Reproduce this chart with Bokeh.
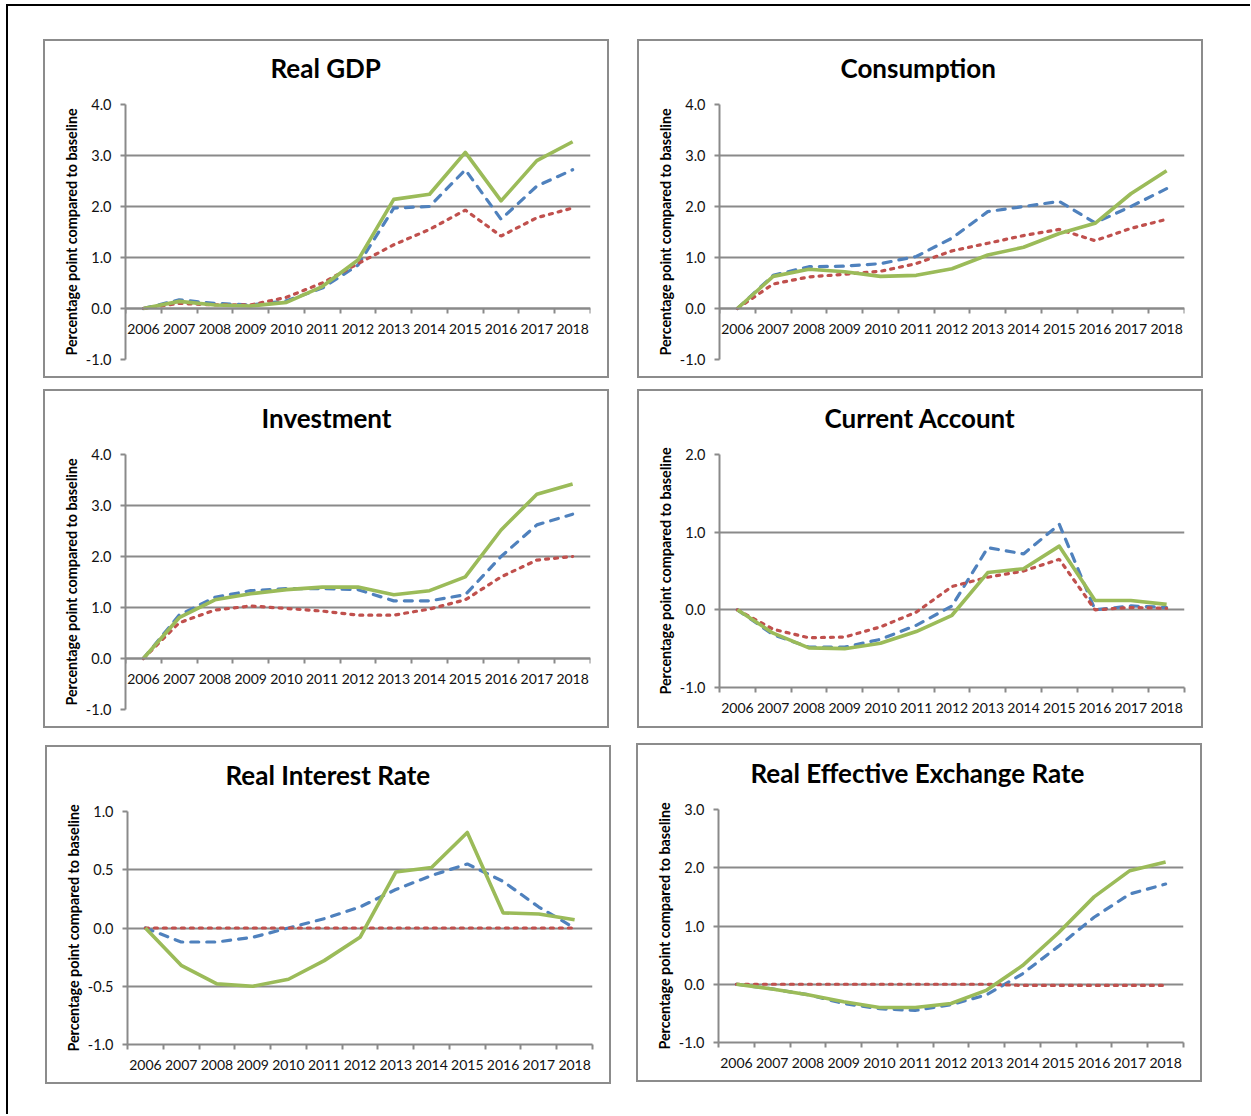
from bokeh.plotting import figure
from bokeh.layouts import row, column
from bokeh.models import FixedTicker, NumeralTickFormatter, LinearAxis, Range1d, Grid, Title
from bokeh.embed import file_html
from bokeh.resources import INLINE

years = ["2006", "2007", "2008", "2009", "2010", "2011", "2012",
         "2013", "2014", "2015", "2016", "2017", "2018"]

gdp_blue = [0.0, 0.17, 0.10, 0.07, 0.15, 0.40, 0.85, 1.97, 2.00, 2.72, 1.75, 2.40, 2.72]
gdp_red = [0.0, 0.10, 0.07, 0.07, 0.22, 0.50, 0.88, 1.25, 1.55, 1.93, 1.42, 1.78, 1.97]
gdp_green = [0.0, 0.14, 0.07, 0.05, 0.12, 0.43, 0.95, 2.14, 2.24, 3.06, 2.11, 2.90, 3.27]

cons_blue = [0.0, 0.65, 0.82, 0.83, 0.88, 1.02, 1.38, 1.90, 2.00, 2.10, 1.68, 2.00, 2.35]
cons_red = [0.0, 0.48, 0.62, 0.67, 0.73, 0.88, 1.13, 1.28, 1.43, 1.55, 1.33, 1.57, 1.75]
cons_green = [0.0, 0.63, 0.77, 0.72, 0.63, 0.65, 0.78, 1.05, 1.20, 1.47, 1.67, 2.25, 2.70]

inv_blue = [0.0, 0.85, 1.20, 1.33, 1.37, 1.37, 1.35, 1.13, 1.13, 1.25, 2.00, 2.62, 2.83]
inv_red = [0.0, 0.70, 0.95, 1.03, 0.98, 0.93, 0.85, 0.85, 0.97, 1.15, 1.60, 1.93, 2.00]
inv_green = [0.0, 0.80, 1.15, 1.27, 1.35, 1.40, 1.40, 1.25, 1.33, 1.60, 2.52, 3.22, 3.42]

ca_blue = [0.0, -0.32, -0.48, -0.48, -0.38, -0.20, 0.05, 0.80, 0.72, 1.10, 0.00, 0.05, 0.03]
ca_red = [0.0, -0.25, -0.36, -0.35, -0.22, -0.03, 0.30, 0.42, 0.50, 0.65, 0.00, 0.03, 0.02]
ca_green = [0.0, -0.30, -0.49, -0.50, -0.43, -0.28, -0.07, 0.48, 0.53, 0.82, 0.12, 0.12, 0.07]

rir_blue = [0.0, -0.12, -0.12, -0.08, 0.00, 0.08, 0.18, 0.33, 0.45, 0.55, 0.40, 0.18, 0.00]
rir_red = [0.0, 0.0, 0.0, 0.0, 0.0, 0.0, 0.0, 0.0, 0.0, 0.0, 0.0, 0.0, 0.0]
rir_green = [0.0, -0.32, -0.48, -0.50, -0.44, -0.28, -0.08, 0.48, 0.52, 0.82, 0.13, 0.12, 0.07]

reer_blue = [0.0, -0.08, -0.18, -0.33, -0.42, -0.45, -0.35, -0.18, 0.18, 0.65, 1.15, 1.55, 1.72]
reer_red = [0.0, 0.0, 0.0, 0.0, 0.0, 0.0, 0.0, 0.0, -0.02, -0.02, -0.02, -0.02, -0.02]
reer_green = [0.0, -0.08, -0.18, -0.30, -0.40, -0.40, -0.33, -0.10, 0.32, 0.88, 1.50, 1.95, 2.10]

ticks_4 = [-1.0, 0.0, 1.0, 2.0, 3.0, 4.0]
ticks_2 = [-1.0, 0.0, 1.0, 2.0]
ticks_1 = [-1.0, -0.5, 0.0, 0.5, 1.0]
ticks_3 = [-1.0, 0.0, 1.0, 2.0, 3.0]

y_label = "Percentage point compared to baseline"

GRAY = "#8a8a8a"
BLUE = "#4F81BD"
RED = "#C0504D"
GREEN = "#9BBB59"
FONT = "Lato"


def make_panel(title, title_offset, blue, red, green, yticks, axis_at_zero, top, fh, margin):
    n = len(years)
    xs = list(range(n))
    bottom = 335 - top - fh
    # the 2px CSS border is measured into the canvas, so the frame grows by 4px;
    # declare it 4px smaller and give the extra to the right/bottom borders
    p = figure(frame_width=461, frame_height=fh - 4,
               min_border_left=80, min_border_right=21,
               min_border_top=top, min_border_bottom=bottom + 4,
               x_range=Range1d(-0.5, n - 0.5),
               y_range=Range1d(min(yticks), max(yticks)),
               x_axis_location=None, y_axis_location=None,
               output_backend="svg", toolbar_location=None,
               outline_line_color=None, background_fill_color="white",
               border_fill_color="white", margin=margin,
               styles={"border": "2px solid #8c8c8c"})
    p.xgrid.visible = False
    p.ygrid.visible = False

    # spacer between the title and the plot frame
    p.add_layout(Title(text=" ", text_font_size="10px", standoff=2), "above")

    p.title.text = title
    p.title.align = "left"
    p.title.offset = title_offset
    p.title.standoff = 12
    p.title.text_font = FONT
    p.title.text_font_style = "bold"
    p.title.text_font_size = "26px"
    p.title.text_color = "black"

    yt = FixedTicker(ticks=yticks, minor_ticks=[])
    grid = Grid(dimension=1, ticker=yt, grid_line_color=GRAY, grid_line_width=2)
    p.add_layout(grid)

    ya = LinearAxis(ticker=yt, formatter=NumeralTickFormatter(format="0.0"),
                    axis_label=y_label,
                    axis_label_text_font=FONT, axis_label_text_font_style="bold",
                    axis_label_text_font_size="14.3px", axis_label_text_color="black",
                    axis_label_standoff=3,
                    major_label_text_font=FONT, major_label_text_font_size="14.5px",
                    major_label_text_color="#111111", major_label_standoff=9,
                    major_tick_out=5, major_tick_in=0, minor_tick_out=0, minor_tick_in=0,
                    major_tick_line_color=GRAY, major_tick_line_width=2,
                    axis_line_color=GRAY, axis_line_width=2)
    p.add_layout(ya, "left")

    bounds = [i - 0.5 for i in range(n + 1)]
    xt = FixedTicker(ticks=xs, minor_ticks=bounds)
    xa = LinearAxis(ticker=xt,
                    major_label_overrides={i: y for i, y in enumerate(years)},
                    major_label_text_font=FONT, major_label_text_font_size="14px",
                    major_label_text_color="#111111", major_label_standoff=10,
                    major_tick_out=0, major_tick_in=0,
                    minor_tick_out=5, minor_tick_in=0,
                    minor_tick_line_color=GRAY, minor_tick_line_width=2,
                    axis_line_color=GRAY, axis_line_width=2)
    if axis_at_zero:
        xa.fixed_location = 0
    p.add_layout(xa, "below")

    p.line(xs, blue, line_color=BLUE, line_width=3.2, line_dash="8 8", line_cap="round")
    p.line(xs, red, line_color=RED, line_width=3.2, line_dash="3 6", line_cap="round")
    p.line(xs, green, line_color=GREEN, line_width=3.6, line_join="round")
    return p


p1 = make_panel("Real GDP", 145, gdp_blue, gdp_red, gdp_green, ticks_4, True, 63, 255, (33, 0, 0, 35))
p2 = make_panel("Consumption", 121, cons_blue, cons_red, cons_green, ticks_4, True, 63, 255, (33, 47, 0, 28))
p3 = make_panel("Investment", 136, inv_blue, inv_red, inv_green, ticks_4, True, 63, 255, (11, 0, 0, 35))
p4 = make_panel("Current Account", 105, ca_blue, ca_red, ca_green, ticks_2, False, 62, 233, (11, 47, 0, 28))
p5 = make_panel("Real Interest Rate", 98, rir_blue, rir_red, rir_green, ticks_1, False, 64, 233, (17, 0, 30, 37))
p6 = make_panel("Real Effective Exchange Rate", 32, reer_blue, reer_red, reer_green, ticks_3, False, 64, 233, (15, 47, 0, 25))

root = column(row(p1, p2), row(p3, p4), row(p5, p6),
              styles={"border-top": "2px solid #000", "border-left": "2px solid #000",
                      "margin-left": "6px", "margin-top": "4px"})

open("out.html", "w").write(file_html(root, INLINE))
